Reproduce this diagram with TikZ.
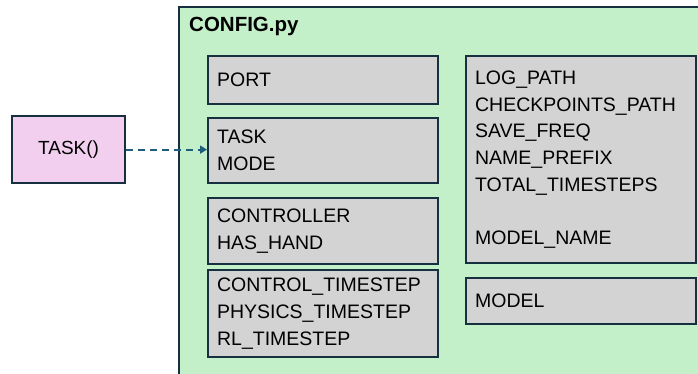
\documentclass[tikz,border=0pt]{standalone}
\usepackage{fontspec}
\setmainfont{Liberation Sans}
\usetikzlibrary{arrows.meta}
\definecolor{cfggreen}{HTML}{C3F0C9}
\definecolor{edgeblue}{HTML}{17303F}
\definecolor{boxgray}{HTML}{D3D3D3}
\definecolor{taskpink}{HTML}{F2CFEE}
\definecolor{linkblue}{HTML}{1D5E7E}
\tikzset{
  x=1pt, y=-1pt,
  varbox/.style={draw=edgeblue, line width=2.2pt, fill=boxgray,
    inner xsep=9pt, inner ysep=0pt, align=left, anchor=north west,
    font=\fontsize{19.5}{26.7}\selectfont},
  funcbox/.style={draw=edgeblue, line width=2.2pt, fill=taskpink,
    inner sep=0pt, align=center, anchor=north west,
    font=\fontsize{19}{26.7}\selectfont},
  link/.style={draw=linkblue, line width=1.9pt, dash pattern=on 7pt off 5pt,
    -{Triangle[length=7pt,width=8pt]}},
}
\begin{document}
\begin{tikzpicture}
  \useasboundingbox (0,0) rectangle (698,374);
  \begin{scope}
    \clip (0,0) rectangle (698,374);
    % configuration module container
    \draw[fill=cfggreen, draw=edgeblue, line width=1.8pt] (179,7) rectangle (710,390);
  \end{scope}
  \node[anchor=base west, inner sep=0pt, font=\fontsize{20.5}{24}\selectfont\bfseries] (title) at (189,32) {CONFIG.py};

  % variable groups, left column
  \node[varbox, minimum width=230pt, text width=212pt, minimum height=48pt] (port) at (207,55) {PORT};
  \node[varbox, minimum width=230pt, text width=212pt, minimum height=65pt] (task) at (207,117) {TASK\\MODE};
  \node[varbox, minimum width=230pt, text width=212pt, minimum height=66pt] (ctrl) at (207,197) {CONTROLLER\\HAS\_HAND};
  \node[varbox, minimum width=230pt, text width=212pt, minimum height=87pt] (steps) at (207,269) {CONTROL\_TIMESTEP\\PHYSICS\_TIMESTEP\\RL\_TIMESTEP};

  % variable groups, right column
  \node[varbox, minimum width=230pt, text width=212pt, minimum height=207pt] (log) at (465,55) {LOG\_PATH\\CHECKPOINTS\_PATH\\SAVE\_FREQ\\NAME\_PREFIX\\TOTAL\_TIMESTEPS\\[26.7pt]MODEL\_NAME};
  \node[varbox, minimum width=230pt, text width=212pt, minimum height=46pt] (model) at (465,277) {MODEL};

  % task function feeding the config
  \node[funcbox, minimum width=113pt, minimum height=67pt] (fn) at (11,115) {TASK()};
  \draw[link] (fn.east) -- (fn.east -| task.west);
\end{tikzpicture}
\end{document}
